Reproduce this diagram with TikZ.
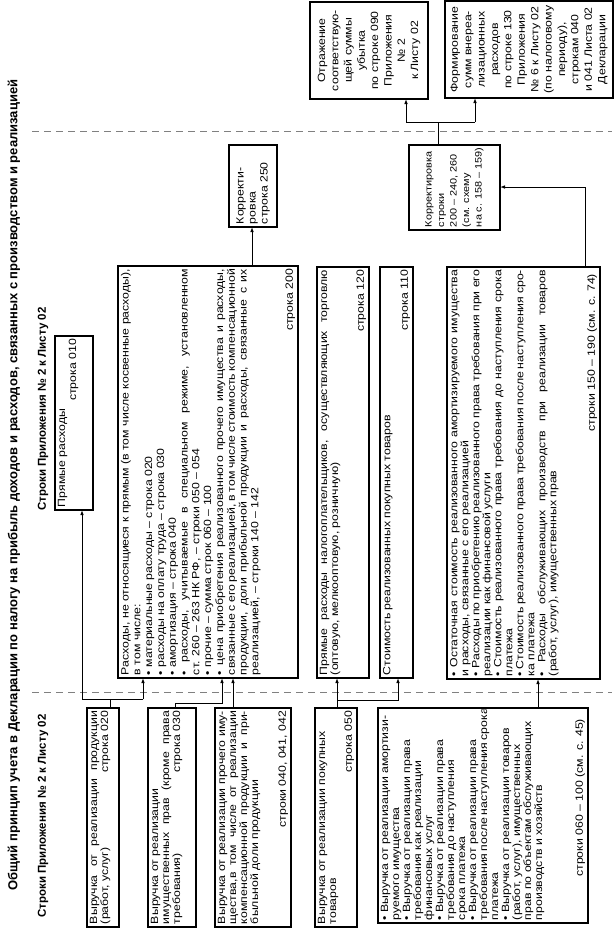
\documentclass[tikz,border=0pt]{standalone}
\usepackage{fontspec}
\setmainfont{Liberation Sans}
\newfontfamily\hfont{Liberation Sans}
\newfontfamily\bodyfont{Liberation Sans}[FakeStretch=1.17]
\usetikzlibrary{arrows.meta}

\newcommand\lnJ[1]{\hbox to\hsize{#1}}
\newcommand\lnL[1]{\hbox to\hsize{#1\hfil}}
\newcommand\lnR[1]{\hbox to\hsize{\hfil#1}}
\newcommand\lnLR[2]{\hbox to\hsize{#1\hfil#2}}
\newcommand\lnC[1]{\hbox to\hsize{\hfil#1\hfil}}
% name, cx, cy, length (image y extent), thickness (image x extent), lines
\newcommand\RB[6]{%
  \pgfmathsetlengthmacro\bw{#4-6}%
  \pgfmathsetlengthmacro\bh{#5-6}%
  \node[rbox] (#1) at (#2,#3) {\vbox to \bh{\hsize=\bw\relax #6\kern0pt}};%
}

\begin{document}
\begin{tikzpicture}[x=1pt,y=-1pt,
  rbox/.style={draw, line width=1.2pt, rotate=90, inner sep=3pt, outer sep=0pt,
    font=\bodyfont\fontsize{10.5}{11}\selectfont},
  conn/.style={line width=0.9pt},
  arr/.style={conn,-{Latex[length=5pt,width=3.6pt]}},
  divline/.style={line width=0.6pt, gray, dash pattern=on 7pt off 5pt},
  ttl/.style={rotate=90, font=\hfont\bfseries\fontsize{13}{15}\selectfont, inner sep=0pt},
  hdg/.style={rotate=90, font=\hfont\bfseries\fontsize{11.5}{13}\selectfont, inner sep=0pt}]
\useasboundingbox (0,0) rectangle (616,930);

% titles
\node[ttl] (title) at (14,485) {Общий принцип учета в Декларации по налогу на прибыль доходов и расходов, связанных с производством и реализацией};
\node[hdg] (hleft) at (43,816) {Строки Приложения № 2 к Листу 02};
\node[hdg] (hmid) at (43,409) {Строки Приложения № 2 к Листу 02};

% separators
\draw[divline] (32,131) -- (612,131);
\draw[divline] (32,692) -- (612,692);

% left column
\RB{L1}{103}{817.5}{219}{32}{%
  \lnJ{Выручка от реализации продукции}%
  \lnLR{(работ, услуг)}{строка 020}}
\RB{L2}{172}{817.5}{219}{48}{%
  \lnL{Выручка от реализации}%
  \lnJ{имущественных прав (кроме права}%
  \lnLR{требования)}{строка 030}}
\RB{L3}{253}{817.5}{219}{76}{%
  \lnJ{Выручка от реализации прочего иму-}%
  \lnJ{щества,в том числе от реализации}%
  \lnJ{компенсационной продукции и при-}%
  \lnL{быльной доли продукции}%
  \vfil
  \lnR{строки 040, 041, 042}}
\RB{L4}{336}{817.5}{219}{42}{%
  \lnL{Выручка от реализации покупных}%
  \lnL{товаров}%
  \vfil
  \lnR{строка 050}}
\RB{L5}{483}{815.5}{215}{210}{%
  \lnL{• Выручка от реализации амортизи-}%
  \lnL{руемого имущества}%
  \lnL{• Выручка от реализации права}%
  \lnL{требования как реализации}%
  \lnL{финансовых услуг}%
  \lnL{• Выручка от реализации права}%
  \lnL{требования до наступления}%
  \lnL{срока платежа}%
  \lnL{• Выручка от реализации права}%
  \lnL{требования после наступления срока}%
  \lnL{платежа}%
  \lnL{• Выручка от реализации товаров}%
  \lnL{(работ, услуг), имущественных}%
  \lnL{прав по объектам обслуживающих}%
  \lnL{производств и хозяйств}%
  \vfil
  \lnR{строки 060 – 100 (см. с. 45)\kern8pt}}

% middle column
\RB{M1}{74}{423}{174}{38}{%
  \lnL{Прямые расходы}%
  \lnR{строка 010}}
\RB{M2}{208}{472}{412}{180}{\baselineskip=11.8pt
  \lnJ{Расходы, не относящиеся к прямым (в том числе косвенные расходы),}%
  \lnL{в том числе:}%
  \lnL{• материальные расходы – строка 020}%
  \lnL{• расходы на оплату труда – строка 030}%
  \lnL{• амортизация – строка 040}%
  \lnJ{• расходы, учитываемые в специальном режиме, установленном}%
  \lnL{ст. 260 – 263 НК РФ, – строки 050 – 054}%
  \lnL{• прочие – сумма строк 060 – 100}%
  \lnJ{• цена приобретения реализованного прочего имущества и расходы,}%
  \lnJ{связанные с его реализацией, в том числе стоимость компенсационной}%
  \lnJ{продукции, доли прибыльной продукции и расходы, связанные с их}%
  \lnL{реализацией, – строки 140 – 142}%
  \vfil
  \lnR{строка 200}}
\RB{M3}{343}{472.5}{411}{52}{%
  \lnJ{Прямые расходы налогоплательщиков, осуществляющих торговлю}%
  \lnL{(оптовую, мелкооптовую, розничную)}%
  \vfil
  \lnR{строка 120}}
\RB{M4}{396.5}{472.5}{411}{33}{%
  \lnL{Стоимость реализованных покупных товаров}%
  \vfil
  \lnR{строка 110}}
\RB{M5}{523.5}{473}{412}{153}{%
  \lnJ{• Остаточная стоимость реализованного амортизируемого имущества}%
  \lnL{и расходы, связанные с его реализацией}%
  \lnJ{• Расходы по приобретению реализованного права требования при его}%
  \lnL{реализации как финансовой услуги}%
  \lnJ{• Стоимость реализованного права требования до наступления срока}%
  \lnL{платежа}%
  \lnJ{• Стоимость реализованного права требования после наступления сро-}%
  \lnL{ка платежа}%
  \lnJ{• Расходы обслуживающих производств при реализации товаров}%
  \lnL{(работ, услуг), имущественных прав}%
  \vfil
  \lnR{строки 150 – 190 (см. с. 74)\kern4pt}}

% corrections
\RB{K250}{253}{186}{82}{48}{\baselineskip=12pt
  \vfil
  \lnL{Корректи-}%
  \lnL{ровка}%
  \lnL{строка 250}%
  \vfil}
\RB{K200}{454.5}{187.5}{85}{91}{\fontsize{9.3}{12.5}\selectfont
  \vfil
  \lnL{Корректировка}%
  \lnL{строки}%
  \lnL{200 – 240, 260}%
  \lnL{(см. схему}%
  \lnL{на с. 158 – 159)}%
  \vfil}

% right column
\RB{OTR}{369}{50.5}{97}{118}{\baselineskip=13.3pt
  \vfil
  \lnC{Отражение}%
  \lnC{соответствую-}%
  \lnC{щей суммы}%
  \lnC{убытка}%
  \lnC{по строке 090}%
  \lnC{Приложения}%
  \lnC{№ 2}%
  \lnC{к Листу 02}%
  \vfil}
\RB{FORM}{529}{49.5}{97}{168}{\baselineskip=13.4pt
  \vfil
  \lnC{Формирование}%
  \lnC{сумм внереа-}%
  \lnC{лизационных}%
  \lnC{расходов}%
  \lnC{по строке 130}%
  \lnC{Приложения}%
  \lnC{№ 6 к Листу 02}%
  \lnC{(по налоговому}%
  \lnC{периоду),}%
  \lnC{строкам 040}%
  \lnC{и 041 Листа 02}%
  \lnC{Декларации}%
  \vfil}

% connectors
\coordinate (a1) at (82,699);
\coordinate (a2) at (143,699);
\draw[conn] (L1.east -| 110,0) -- (110,699);
\draw[conn] (a1) -- (a2);
\draw[arr] (a1) -- (M1.west -| a1);
\draw[arr] (a2) -- (M2.west -| a2);

\coordinate (a3) at (222,703);
\draw[arr] (L2.east -| 175,0) |- (a3) -- (M2.west -| a3);

\draw[arr] (L3.east -| 233,0) -- (M2.west -| 233,0);

\coordinate (a4) at (337,700);
\draw[arr] (L4.east -| a4) -- (M3.west -| a4);
\draw[arr] (a4) -| (M4.west -| 398,0);

\draw[arr] (L5.east -| 538,0) -- (M5.west -| 538,0);

\draw[arr] (M2.east -| 252,0) -- (K250.west -| 252,0);

\draw[arr] (M5.east -| 585,0) |- (K200.south |- 0,187);

\coordinate (a5) at (406,122);
\coordinate (a6) at (475,122);
\draw[conn] (K200.east -| 438,0) -- (438,122);
\draw[conn] (a5) -- (a6);
\draw[arr] (a5) -- (OTR.west -| a5);
\draw[arr] (a6) -- (FORM.west -| a6);
\end{tikzpicture}
\end{document}
